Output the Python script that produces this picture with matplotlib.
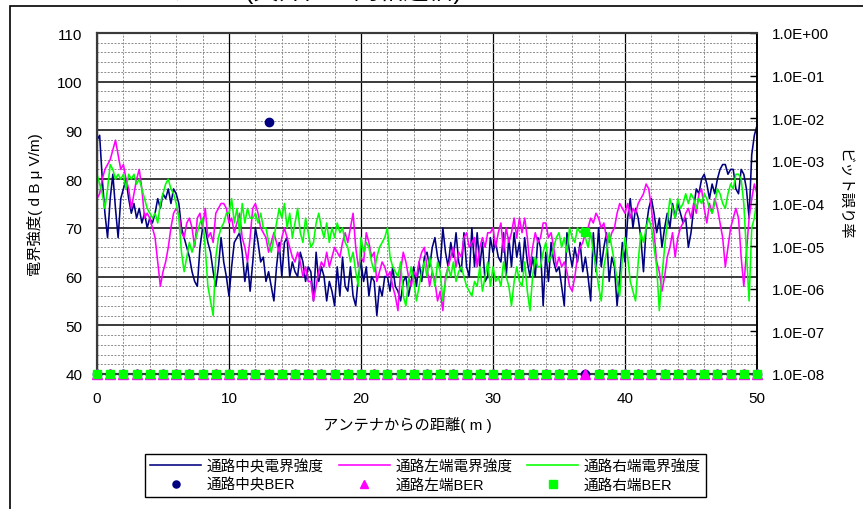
import numpy as np
import matplotlib
matplotlib.use("Agg")
import matplotlib.pyplot as plt
from matplotlib.ticker import MultipleLocator, NullLocator
from matplotlib.patches import Rectangle

# ── fonts / colours ───────────────────────────────────────────────────
plt.rcParams["font.family"] = ["Liberation Sans", "Noto Sans CJK JP"]
plt.rcParams["font.size"] = 11

C_CENTER = "#000080"
C_LEFT = "#FF00FF"
C_RIGHT = "#00FF00"
C_MAJOR = "#3a3a3a"
C_MINOR = "#8c8c8c"

# ── field strength (dBuV/m), sampled every STEP metres from 0 to 50 m ──
STEP = 0.2

center_field = [
    88, 89, 80, 73, 68, 76, 81, 74, 68, 76,
    78, 80, 76, 73, 75, 72, 74, 71, 73, 70,
    72, 71, 73, 76, 74, 77, 76, 78, 75, 78,
    77, 75, 70, 68, 66, 64, 61, 59, 58, 66,
    70, 70, 67, 65, 61, 58, 62, 68, 63, 60,
    56, 62, 67, 68, 69, 65, 59, 63, 57, 63,
    70, 67, 63, 64, 59, 61, 58, 55, 62, 67,
    60, 67, 68, 60, 63, 61, 60, 65, 63, 59,
    62, 61, 55, 65, 59, 62, 60, 55, 59, 57,
    54, 62, 56, 64, 58, 57, 62, 56, 54, 60,
    63, 59, 62, 56, 60, 59, 52, 58, 56, 60,
    60, 57, 62, 58, 57, 55, 59, 60, 56, 59,
    62, 58, 63, 59, 64, 65, 62, 66, 68, 64,
    62, 70, 65, 62, 67, 64, 69, 63, 61, 69,
    62, 60, 70, 62, 69, 62, 67, 59, 60, 68,
    65, 67, 64, 63, 69, 60, 68, 62, 69, 64,
    67, 61, 68, 63, 60, 64, 60, 68, 66, 54,
    65, 59, 67, 63, 61, 62, 58, 54, 69, 65,
    62, 66, 63, 67, 61, 64, 60, 55, 69, 61,
    70, 62, 66, 69, 59, 64, 62, 54, 60, 67,
    63, 72, 76, 70, 74, 72, 68, 61, 70, 74,
    76, 73, 69, 72, 66, 70, 73, 70, 75, 72,
    75, 73, 71, 72, 66, 69, 74, 78, 77, 80,
    81, 79, 76, 79, 77, 80, 82, 83, 83, 81,
    82, 82, 78, 77, 82, 81, 78, 72, 85, 89,
    91,
]

left_field = [
    76, 77, 80, 82, 83, 84, 86, 88, 85, 82,
    83, 80, 78, 74, 77, 80, 82, 78, 72, 73,
    72, 70, 68, 63, 58, 61, 63, 66, 70, 73,
    74, 73, 69, 68, 71, 72, 70, 66, 72, 73,
    70, 74, 68, 69, 67, 73, 74, 75, 75, 74,
    71, 72, 69, 71, 73, 68, 66, 63, 68, 74,
    75, 73, 70, 69, 68, 65, 67, 69, 67, 65,
    68, 70, 68, 66, 64, 63, 65, 63, 60, 62,
    59, 59, 55, 58, 61, 63, 62, 65, 62, 64,
    66, 65, 64, 67, 69, 67, 70, 73, 66, 62,
    64, 63, 69, 67, 64, 65, 59, 61, 63, 62,
    60, 61, 58, 56, 53, 61, 65, 63, 60, 58,
    61, 60, 63, 65, 66, 62, 58, 61, 59, 55,
    57, 53, 60, 62, 64, 66, 62, 65, 64, 68,
    69, 66, 67, 68, 62, 66, 68, 66, 69, 69,
    70, 66, 69, 71, 65, 70, 67, 69, 72, 68,
    72, 69, 72, 68, 62, 66, 69, 67, 68, 71,
    71, 68, 69, 66, 62, 64, 62, 63, 61, 58,
    57, 60, 64, 66, 67, 69, 70, 72, 71, 73,
    72, 70, 71, 68, 67, 69, 70, 73, 75, 74,
    73, 75, 72, 74, 73, 75, 76, 77, 79, 78,
    74, 69, 63, 61, 57, 60, 64, 66, 69, 64,
    68, 70, 71, 73, 74, 72, 75, 73, 77, 78,
    74, 71, 75, 73, 76, 74, 71, 68, 62, 66,
    70, 72, 74, 72, 64, 58, 65, 72, 76, 79,
    77,
]

right_field = [
    81, 79, 77, 74, 78, 83, 82, 80, 81, 80,
    81, 78, 81, 80, 81, 79, 80, 78, 76, 74,
    73, 72, 73, 71, 75, 77, 79, 80, 78, 77,
    75, 72, 65, 61, 64, 67, 65, 67, 69, 71,
    72, 66, 58, 55, 52, 64, 68, 70, 71, 73,
    73, 76, 71, 74, 69, 75, 71, 74, 72, 72,
    73, 71, 73, 70, 70, 67, 65, 68, 71, 74,
    72, 75, 70, 73, 68, 71, 74, 69, 67, 72,
    69, 66, 67, 71, 73, 70, 68, 71, 67, 70,
    68, 71, 69, 70, 67, 66, 63, 65, 61, 58,
    68, 65, 67, 66, 63, 61, 64, 66, 67, 68,
    70, 64, 62, 61, 60, 63, 56, 54, 59, 62,
    59, 55, 58, 61, 63, 60, 64, 61, 58, 63,
    61, 55, 59, 62, 60, 63, 59, 61, 62, 60,
    58, 57, 56, 59, 58, 62, 57, 60, 63, 58,
    62, 59, 60, 58, 63, 60, 58, 54, 59, 62,
    59, 58, 63, 57, 53, 60, 64, 62, 62, 65,
    67, 63, 64, 66, 68, 69, 66, 68, 65, 70,
    68, 67, 70, 69, 70, 68, 66, 69, 65, 62,
    58, 55, 62, 65, 69, 66, 63, 59, 56, 64,
    68, 64, 59, 57, 55, 63, 69, 67, 70, 72,
    70, 66, 62, 53, 60, 66, 71, 76, 74, 72,
    76, 74, 75, 77, 75, 77, 76, 74, 76, 75,
    77, 76, 74, 73, 75, 78, 77, 75, 74, 77,
    79, 78, 81, 81, 80, 75, 65, 55, 70, 72,
    76,
]

# ── bit error rate, one reading per metre; N = no error (axis floor) ──
N = 1.0e-8
ber_pos = list(range(51))

center_ber = [
    N, N, N, N, N, N, N, N, N, N,
    N, N, N, 8.0e-3, N, N, N, N, N, N,
    N, N, N, N, N, N, N, N, N, N,
    N, N, N, N, N, N, N, N, N, N,
    N, N, N, N, N, N, N, N, N, N,
    N,
]
left_ber = [
    N, N, N, N, N, N, N, N, N, N,
    N, N, N, N, N, N, N, N, N, N,
    N, N, N, N, N, N, N, N, N, N,
    N, N, N, N, N, N, N, N, N, N,
    N, N, N, N, N, N, N, N, N, N,
    N,
]
right_ber = [
    N, N, N, N, N, N, N, N, N, N,
    N, N, N, N, N, N, N, N, N, N,
    N, N, N, N, N, N, N, N, N, N,
    N, N, N, N, N, N, N, 2.2e-5, N, N,
    N, N, N, N, N, N, N, N, N, N,
    N,
]

for arr in (center_field, left_field, right_field):
    assert len(arr) == 251, len(arr)

labels = ["通路中央電界強度", "通路中央BER",
          "通路左端電界強度", "通路左端BER",
          "通路右端電界強度", "通路右端BER"]

# ── figure ────────────────────────────────────────────────────────────
W, H = 863, 510
fig = plt.figure(figsize=(W / 100, H / 100), dpi=100)
ax = fig.add_axes([97 / W, 1 - 375 / H, 660 / W, 341 / H])

lines = []
for arr, col in ((center_field, C_CENTER), (left_field, C_LEFT), (right_field, C_RIGHT)):
    x = np.arange(len(arr)) * STEP
    ln, = ax.plot(x, arr, color=col, lw=1.15, zorder=3)
    lines.append(ln)

ax.set_xlim(0, 50)
ax.set_ylim(40, 110)
ax.xaxis.set_major_locator(MultipleLocator(10))
ax.xaxis.set_minor_locator(MultipleLocator(2))
ax.yaxis.set_major_locator(MultipleLocator(10))
ax.yaxis.set_minor_locator(MultipleLocator(2))
ax.grid(which="minor", color=C_MINOR, lw=0.7, ls=(0, (2, 1.5)))
ax.xaxis.grid(which="major", color="black", lw=0.9)
ax.yaxis.grid(which="major", color=C_MAJOR, lw=1.4)
ax.tick_params(which="both", length=0)
ax.tick_params(axis="y", pad=10.5, labelsize=11)
ax.tick_params(axis="x", pad=12, labelsize=11)

# right axis: bit error rate on a log scale
ax2 = ax.twinx()
ax2.set_yscale("log")
ax2.set_ylim(1e-8, 1)
ax2.set_yticks([10.0 ** -k for k in range(9)])
ax2.set_yticklabels([f"1.0E{-k:+03d}" for k in range(9)])
ax2.yaxis.set_minor_locator(NullLocator())
ax2.tick_params(axis="y", direction="in", length=5, width=1, pad=10.5, labelsize=11)

markers = []
for vals, mk, col, ms in ((center_ber, "o", C_CENTER, 6.0),
                          (left_ber, "^", C_LEFT, 6.5),
                          (right_ber, "s", C_RIGHT, 6.0)):
    m, = ax2.plot(ber_pos, vals, ls="none", marker=mk, color=col, ms=ms,
                  clip_on=False, zorder=4)
    markers.append(m)

for a in (ax, ax2):
    for side in ("left", "top", "bottom"):
        a.spines[side].set_color(C_MAJOR)
        a.spines[side].set_linewidth(1.5)
    a.spines["right"].set_color("black")
    a.spines["right"].set_linewidth(1.2)

# axis titles
fig.text(35 / W, 1 - 205 / H, "電界強度( d B μ V/m)", rotation=90,
         ha="center", va="center", fontsize=11)
fig.text(407 / W, 1 - 425 / H, "アンテナからの距離( m )",
         ha="center", va="center", fontsize=11)
fig.text(843 / W, 1 - 195 / H, "ビット誤り率", rotation=270,
         ha="center", va="center", fontsize=11)

# chart title sits above the chart frame, mostly beyond the top edge
fig.text(45 / W, 1 + 0.5 / H, "ループアンテナ型(天井置き同相通信)",
         ha="left", va="baseline", fontsize=18)

# chart frame
fig.add_artist(Rectangle((10 / W, -0.1), 1.2, 1.1 - 7 / H,
                         transform=fig.transFigure, fill=False,
                         edgecolor="black", lw=1.2, clip_on=False))

handles = [lines[0], markers[0], lines[1], markers[1], lines[2], markers[2]]
leg = fig.legend(handles, labels, ncol=3, loc="upper left",
                 bbox_to_anchor=(145 / W, 1 - 455 / H),
                 frameon=True, fancybox=False, edgecolor="black",
                 framealpha=1, fontsize=10.5, handlelength=3.5,
                 handletextpad=0.4, columnspacing=1.0,
                 borderpad=0.35, labelspacing=0.3, borderaxespad=0,
                 markerscale=0.85)
leg.get_frame().set_linewidth(1.0)

fig.savefig("out.png", dpi=100)
